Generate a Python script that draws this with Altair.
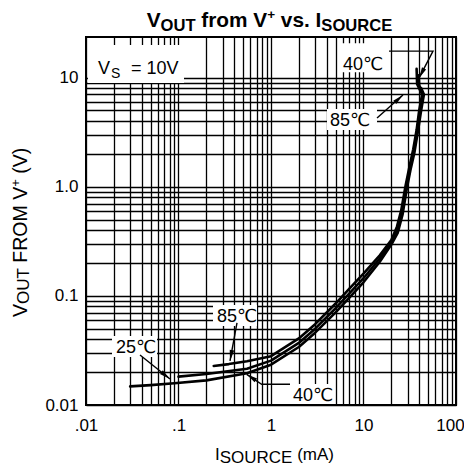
import math
import altair as alt
import pandas as pd

FONT = "Liberation Sans, DejaVu Sans, sans-serif"

# ---- curve data (I_SOURCE in mA, V_OUT from V+ in V) ----
c85_x = [0.24, 0.35, 0.55, 1, 2, 3, 5, 7, 10, 15, 20, 23, 25.5, 28.5, 31.5, 34.5, 37.5, 40, 43, 38, 37.5]
c85_y = [0.0228, 0.0237, 0.0252, 0.028, 0.0407, 0.055, 0.085, 0.116, 0.16, 0.235, 0.325, 0.43, 0.60, 1.02, 1.55, 2.2, 3.3, 5.0, 7.0, 8.7, 12.0]

c25_x = [0.1, 0.2, 0.55, 1, 2, 3, 5, 7, 10, 15, 20, 23, 26, 29, 32, 35, 38, 41, 44, 40, 39.5]
c25_y = [0.0182, 0.0192, 0.0215, 0.0255, 0.037, 0.050, 0.077, 0.105, 0.145, 0.22, 0.31, 0.40, 0.58, 1.0, 1.5, 2.1, 3.2, 5.0, 7.0, 8.5, 10.5]

cm40_x = [0.03, 0.05, 0.09, 0.2, 0.55, 1, 2, 3, 5, 7, 10, 15, 20, 23.5, 26.5, 29.5, 32.5, 35.5, 38.5, 42, 45, 42]
cm40_y = [0.0148, 0.0152, 0.0158, 0.0168, 0.0195, 0.0234, 0.034, 0.046, 0.0706, 0.096, 0.133, 0.205, 0.295, 0.38, 0.56, 0.98, 1.48, 2.05, 3.1, 5.0, 7.0, 8.0]

# ---- axes ----
XDOM = [0.01, 100]
YDOM = [0.01, 23.5]
x_grid = [round(m * 10 ** k, 4) for k in range(-2, 2) for m in range(1, 10)] + [100]
y_grid = [round(m * 10 ** k, 4) for k in range(-2, 1) for m in range(1, 10)] + [10]
x_labels = {0.01: ".01", 0.1: ".1", 1: "1", 10: "10", 100: "100"}
y_labels = {0.01: "0.01", 0.1: "0.1", 1: "1.0", 10: "10"}

# ---- annotations (data coordinates) ----
ann_text = ["V", "S", "= 10V", "40℃", "85℃", "85℃", "25℃", "40℃"]
ann_x = [0.01348, 0.01863, 0.0307, 6.0, 4.34, 0.2608, 0.0211, 1.729]
ann_y = [10.7, 9.98, 10.7, 11.7, 3.59, 0.0575, 0.02994, 0.01088]
ann_size = [18, 14, 18, 18, 18, 18, 18, 18]

box_x1 = [0.0105, 5.57, 4.03, 0.236, 0.0191, 1.565]
box_x2 = [0.1147, 16.65, 14.0, 0.706, 0.0586, 4.8]
box_y1 = [8.89, 11.2, 3.30, 0.0529, 0.0275, 0.01021]
box_y2 = [19.8, 20.6, 5.14, 0.0824, 0.0428, 0.01557]

leaders = {
    "a": ([18.87, 56.4, 39.8], [17.45, 17.45, 9.87]),
    "b": ([14.0, 26.7], [4.25, 6.9]),
    "c": ([0.429, 0.3603], [0.0564, 0.0253]),
    "d": ([0.03836, 0.0809], [0.0287, 0.0173]),
    "e": ([1.605, 0.793, 0.546], [0.01547, 0.01547, 0.0191]),
}

W, H = 370, 368


def to_px(x):
    return W * (math.log10(x) - math.log10(XDOM[0])) / (math.log10(XDOM[1]) - math.log10(XDOM[0]))


def to_py(y):
    return H * (1 - (math.log10(y) - math.log10(YDOM[0])) / (math.log10(YDOM[1]) - math.log10(YDOM[0])))


xs = alt.Scale(type="log", domain=XDOM, nice=False)
ys = alt.Scale(type="log", domain=YDOM, nice=False)


def lab_expr(d):
    parts = [f"datum.value == {k} ? '{v}'" for k, v in d.items()]
    return " : ".join(parts) + " : ''"


x_axis = alt.Axis(values=x_grid, labelExpr=lab_expr(x_labels), grid=True, gridColor="black",
                  gridWidth=1.3, gridOpacity=1, ticks=False, domain=False, labelFont=FONT,
                  labelFontSize=17, labelColor="black", labelPadding=12, labelOverlap=False,
                  labelFlush=False, title=None,
                  labelOffset={"expr": "datum.value == 100 ? -6 : 0"})
y_axis = alt.Axis(values=y_grid, labelExpr=lab_expr(y_labels), grid=True, gridColor="black",
                  gridWidth=1.3, gridOpacity=1, ticks=False, domain=False, labelFont=FONT,
                  labelFontSize=17, labelColor="black", labelPadding=8, labelOverlap=False,
                  labelFlush=False, title=None)


def X(f):
    return alt.X(f, scale=xs, axis=x_axis)


def Y(f):
    return alt.Y(f, scale=ys, axis=y_axis)


rows = []
for name, xv, yv in [("85", c85_x, c85_y), ("25", c25_x, c25_y), ("-40", cm40_x, cm40_y)]:
    for i, (a, b) in enumerate(zip(xv, yv)):
        rows.append({"s": name, "i": i, "x": a, "y": b})
curves_df = pd.DataFrame(rows)

curves = alt.Chart(curves_df).mark_line(color="black", strokeWidth=2.6, strokeCap="round",
                                        strokeJoin="round").encode(
    x=X("x:Q"), y=Y("y:Q"), detail="s:N", order="i:Q",
)

boxes = alt.Chart(pd.DataFrame({"x": box_x1, "x2": box_x2, "y": box_y1, "y2": box_y2})).mark_rect(
    color="white").encode(x=X("x:Q"), x2="x2:Q", y=Y("y:Q"), y2="y2:Q")

lrows, hrows = [], []
for lid, (lx, ly) in leaders.items():
    for i, (a, b) in enumerate(zip(lx, ly)):
        lrows.append({"id": lid, "i": i, "x": a, "y": b})
    dx = to_px(lx[-1]) - to_px(lx[-2])
    dy = to_py(ly[-1]) - to_py(ly[-2])
    ang = math.degrees(math.atan2(dx, -dy)) % 360
    hrows.append({"x": lx[-1], "y": ly[-1], "ang": ang})

lead = alt.Chart(pd.DataFrame(lrows)).mark_line(color="black", strokeWidth=1.4).encode(
    x=X("x:Q"), y=Y("y:Q"), detail="id:N", order="i:Q",
)
heads = alt.Chart(pd.DataFrame(hrows)).mark_point(
    shape="M0,0L-0.42,2L0.42,2Z", filled=True, color="black", opacity=1, size=121, strokeWidth=0
).encode(x=X("x:Q"), y=Y("y:Q"), angle=alt.Angle("ang:Q", scale=None))

ann_layers = []
for t, a, b, s in zip(ann_text, ann_x, ann_y, ann_size):
    ann_layers.append(
        alt.Chart(pd.DataFrame({"x": [a], "y": [b]})).mark_text(
            text=t, font=FONT, fontSize=s, align="left", baseline="alphabetic", color="black"
        ).encode(x=X("x:Q"), y=Y("y:Q"))
    )

# ---- composite titles (pixel layout relative to plot area) ----
REG = {" ": 278, "(": 333, ")": 333, "+": 584, ".": 278, "A": 667, "C": 722, "E": 667, "F": 611,
       "I": 278, "M": 833, "O": 778, "R": 722, "S": 667, "T": 611, "U": 722, "V": 667, "m": 833}
BOLD = {" ": 278, "+": 584, ".": 278, "I": 278, "O": 778, "U": 722, "T": 611, "V": 667, "S": 667,
        "R": 722, "C": 722, "E": 667, "f": 333, "r": 389, "o": 611, "m": 889, "v": 556, "s": 556}


def width(s, size, bold):
    tab = BOLD if bold else REG
    return sum(tab[c] for c in s) * size / 1000.0


def ptext(s, x, y, size, bold=False, angle=0):
    return alt.Chart(pd.DataFrame({"k": [0]})).mark_text(
        text=s, font=FONT, fontSize=size, fontWeight="bold" if bold else "normal",
        align="left", baseline="alphabetic", angle=angle, color="black"
    ).encode(x=alt.value(x), y=alt.value(y))


def lead_sp(s, size, bold):
    n = len(s) - len(s.lstrip(" "))
    return width(" " * n, size, bold), s.strip(" ")


title_layers = []

title_parts = [("V", 20.8, 0), ("OUT", 16.6, 4), (" from V", 20.8, 0), ("+", 13.5, -8),
               (" vs. I", 20.8, 0), ("SOURCE", 16.6, 4)]
tw = sum(width(s, z, True) for s, z, _ in title_parts)
cx = 183.5 - tw / 2
for s, z, d in title_parts:
    off, txt = lead_sp(s, z, True)
    title_layers.append(ptext(txt, cx + off, -10.5 + d, z, True))
    cx += width(s, z, True)

xt_parts = [("I", 17, 0), ("SOURCE", 17, 3), (" (mA)", 17, 0)]
cx = 129
for s, z, d in xt_parts:
    off, txt = lead_sp(s, z, False)
    title_layers.append(ptext(txt, cx + off, 423 + d, z))
    cx += width(s, z, False)

yt_parts = [("V", 19.5, 0), ("OUT", 17, 2), (" FROM V", 19.5, 0), ("+", 13, -7), (" (V)", 19.5, 0)]
cy = 280
for s, z, d in yt_parts:
    off, txt = lead_sp(s, z, False)
    title_layers.append(ptext(txt, -59 + d, cy - off, z, angle=270))
    cy -= width(s, z, False)

chart = alt.layer(boxes, curves, lead, heads, *ann_layers, *title_layers).properties(
    width=W, height=H,
    padding={"left": 78, "top": 29, "right": 8, "bottom": 66},
    autosize=alt.AutoSizeParams(type="none"),
).configure_view(stroke="black", strokeWidth=2)

chart.save("out.html", embed_options={"renderer": "svg", "actions": False})
